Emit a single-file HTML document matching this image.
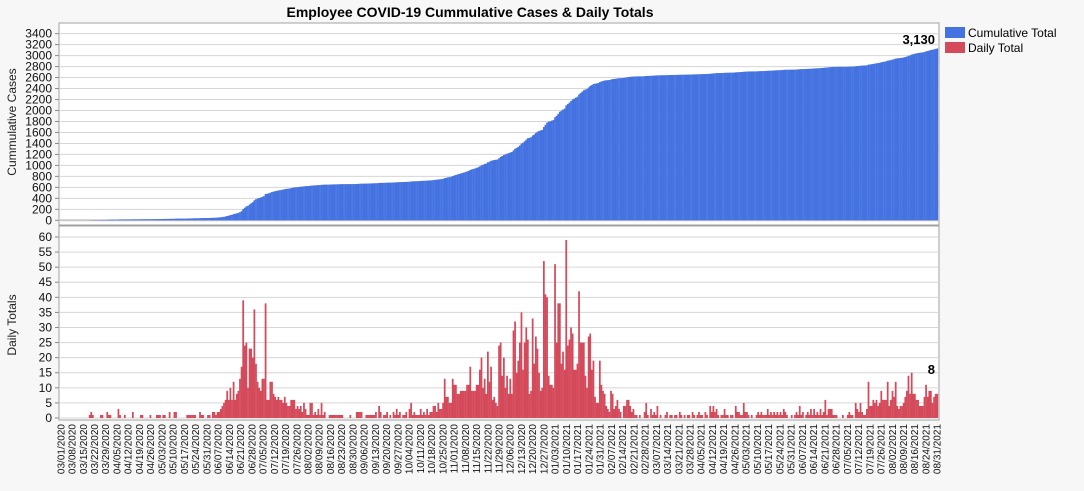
<!DOCTYPE html>
<html><head><meta charset="utf-8">
<style>
body{margin:0;background:#f7f7f7;font-family:"Liberation Sans",sans-serif;}
svg{display:block}
</style></head>
<body>
<svg id="chart" width="1084" height="491" viewBox="0 0 1084 491" xmlns="http://www.w3.org/2000/svg">
<rect x="0" y="0" width="1084" height="491" fill="#f7f7f7"/>
<text x="470" y="17" text-anchor="middle" font-size="14" font-weight="bold" fill="#000">Employee COVID-19 Cummulative Cases &amp; Daily Totals</text>
<rect x="59" y="23" width="880" height="202" fill="#fff" stroke="#a0a0a0"/>
<rect x="59" y="226" width="880" height="194" fill="#fff" stroke="#a0a0a0"/>
<g id="grid"></g>
<g id="bars"></g>
<g id="axes"></g>
<text transform="translate(16,122) rotate(-90)" text-anchor="middle" font-size="12" fill="#222">Cummulative Cases</text>
<text transform="translate(16,325) rotate(-90)" text-anchor="middle" font-size="12" fill="#222">Daily Totals</text>
<g>
<rect x="945" y="27" width="20" height="11" fill="#4472e0"/>
<text x="968" y="37" font-size="12" fill="#000">Cumulative Total</text>
<rect x="945" y="42" width="20" height="11" fill="#d44a5a"/>
<text x="968" y="52" font-size="12" fill="#000">Daily Total</text>
</g>
<text id="cumLabel" x="935" y="44" text-anchor="end" font-size="13" font-weight="bold" fill="#000"></text>
<text id="dailyLabel" x="935" y="374" text-anchor="end" font-size="13" font-weight="bold" fill="#000"></text>
</svg>
<script>
const cumTicks = [0,200,400,600,800,1000,1200,1400,1600,1800,2000,2200,2400,2600,2800,3000,3200,3400];
const dailyTicks = [0,5,10,15,20,25,30,35,40,45,50,55,60];
const dateLabels = [
"03/01/2020","03/08/2020","03/15/2020","03/22/2020","03/29/2020","04/05/2020","04/12/2020","04/19/2020","04/26/2020",
"05/03/2020","05/10/2020","05/17/2020","05/24/2020","05/31/2020","06/07/2020","06/14/2020","06/21/2020","06/28/2020",
"07/05/2020","07/12/2020","07/19/2020","07/26/2020","08/02/2020","08/09/2020","08/16/2020","08/23/2020","08/30/2020",
"09/06/2020","09/13/2020","09/20/2020","09/27/2020","10/04/2020","10/11/2020","10/18/2020","10/25/2020","11/01/2020",
"11/08/2020","11/15/2020","11/22/2020","11/29/2020","12/06/2020","12/13/2020","12/20/2020","12/27/2020","01/03/2021",
"01/10/2021","01/17/2021","01/24/2021","01/31/2021","02/07/2021","02/14/2021","02/21/2021","02/28/2021","03/07/2021",
"03/14/2021","03/21/2021","03/28/2021","04/05/2021","04/12/2021","04/19/2021","04/26/2021","05/03/2021","05/10/2021",
"05/17/2021","05/24/2021","05/31/2021","06/07/2021","06/14/2021","06/21/2021","06/28/2021","07/05/2021","07/12/2021",
"07/19/2021","07/26/2021","08/02/2021","08/09/2021","08/16/2021","08/24/2021","08/31/2021"
];
const daily = [
0,0,0,0,0,0,0,0,0,0,0,0,0,0,0,0,0,0,
1,2,1,0,0,0,0, 1,1,0,0, 2,1,1,0,0,0,0, 3,1,0,0, 1,0,0,0,0, 2,0,0,0,0,
1,1,0,0,0,0, 1,0,0,0, 1,1,1,0, 1,1,0,0, 2,0,0, 2,2,0,0,0,0,0,0,
1,1,1,1,1,1,0,0, 2,1,1,0,0, 1,1,0,
2,2,1,2,2,3,4,5,6,9,6,10,6,12,6,8,9,13,
17,39,24,25,10,23,23,20,36,18,12,10,9,13,13,38,6,6,12,12,8,7,6,7,6,6,5,7,5,4,4,6,6,6,3,4,3,4,
2,5,3,1,1,5,5,1,2,1,
3,1,5,1,2,0,0,1,1,1,
1,1,1,1,1,1,0,0,0,0,
1,0,0,0,2,2,2,2,0,0,
1,1,1,1,1,1,2,0,4,2,
0,1,1,2,0,1,0,2,1,3,
1,2,0,1,1,2,0,3,5,1,
2,1,1,1,3,1,2,1,3,1,
2,2,4,4,2,5,3,
3,5,13,7,7,5,5,13,11,11,8,8,9,9,9,9,11,11,17,9,9,9,11,11,16,
20,10,13,8,22,12,17,6,7,5,
4,24,25,14,20,10,14,8,13,8,
29,32,15,19,25,35,16,25,30,26,
8,9,33,18,27,23,15,9,10,52,
41,40,14,11,11,10,51,25,38,38,
18,22,16,59,24,26,30,
28,16,16,18,42,25,25,25,14,10,27,28,16,19,7,5,5,19,11,
9,8,4,3,2,9,8,3,4,6,
3,2,0,4,4,6,6,4,2,3,
1,1,0,1,0,0,2,5,1,0,
3,1,2,1,4,0,1,0,
0,1,2,0,1,1,0,1,1,0,
2,1,0,1,0,1,1,0,2,1,
0,1,2,1,1,0,2,1,0,4,
2,4,2,3,1,0,1,1,3,1,
1,0,1,1,0,4,2,2,1,1,
5,2,2,1,0,1,0,0,1,2,
1,2,1,1,1,3,1,2,1,2,
1,2,1,2,1,3,2,1,0,0,
1,0,1,2,1,4,1,2,0,1,
2,1,3,1,3,1,2,1,3,1,
2,6,1,3,3,3,1,1,1,0,
0,0,1,0,0,1,2,1,1,0,
5,3,2,
5,2,1,1,3,12,4,4,6,5,
6,4,5,9,6,6,6,12,4,6,
9,7,12,4,3,4,4,5,7,9,
14,8,15,8,8,6,6,4,4,4,
7,11,7,9,9,5,7,8,8
];
const NS="http://www.w3.org/2000/svg";
const X0=60, X1=938;
const n=daily.length;
const bw=(X1-X0)/n;
function xScale(i){return X0+i*bw;}
function yTop(v){return 220.3 - v*0.0549;}
function yBot(v){return 418 - v*3.017;}
function mk(tag,attrs,parent){const e=document.createElementNS(NS,tag);for(const k in attrs)e.setAttribute(k,attrs[k]);parent.appendChild(e);return e;}
const grid=document.getElementById('grid'), bars=document.getElementById('bars'), axes=document.getElementById('axes');
cumTicks.forEach(t=>{
  const y=yTop(t);
  const l=mk('line',{x1:59,x2:939,y1:y,y2:y,stroke:t===0?'#c8c8c8':'#d6d6d6','stroke-width':t===0?2:1},grid);
  
  
  const tx=mk('text',{x:52,y:y+4,'text-anchor':'end','font-size':12,fill:'#111'},axes);
  tx.textContent=t;
  
  
  mk('line',{x1:55,x2:59,y1:y,y2:y,stroke:'#888'},axes);
});
dailyTicks.forEach(t=>{
  const y=yBot(t);
  const l=mk('line',{x1:59,x2:939,y1:y,y2:y,stroke:'#d6d6d6'},grid);
  
  
  const tx=mk('text',{x:52,y:y+4,'text-anchor':'end','font-size':12,fill:'#111'},axes);
  tx.textContent=t;
  
  
  mk('line',{x1:55,x2:59,y1:y,y2:y,stroke:'#888'},axes);
});
let cum=0;
daily.forEach((v,i)=>{
  cum+=v;
  const x=xScale(i);
  const yc=yTop(cum);
  const r1=mk('rect',{x:x,y:yc,width:bw+0.15,height:220.3-yc,fill:'#4472e0'},bars);
  
  
  if(v>0){
    const yd=yBot(v);
    const r2=mk('rect',{x:x,y:yd,width:bw+0.15,height:418-yd,fill:'#d44a5a'},bars);
    
    
  }
});
document.getElementById('cumLabel').textContent=cum.toLocaleString('en-US');
document.getElementById('dailyLabel').textContent=daily[n-1];
const m=dateLabels.length;
const firstC=xScale(0)+bw/2, lastC=xScale(n-1)+bw/2;
dateLabels.forEach((s,k)=>{
  const x=firstC+(lastC-firstC)*k/(m-1)+3.5;
  const tx=mk('text',{transform:`translate(${x},424) rotate(-90)`,'text-anchor':'end','font-size':10,fill:'#111'},axes);
  tx.textContent=s;
  
  
});
</script>
</body></html>
